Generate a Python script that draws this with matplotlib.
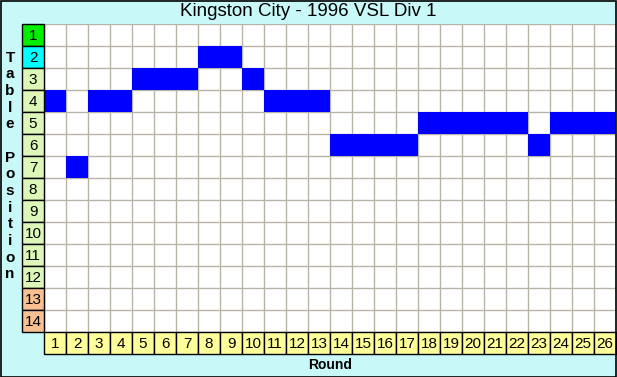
import matplotlib
matplotlib.use("Agg")
import matplotlib.pyplot as plt
from matplotlib.patches import Rectangle

title = "Kingston City - 1996 VSL Div 1"
rounds = list(range(1, 27))
positions = [4, 7, 4, 4, 3, 3, 3, 2, 2, 3, 4, 4, 4, 6, 6, 6, 6, 5, 5, 5, 5, 5, 6, 5, 5, 5]
n_pos = 14
row_colors = ["#00ee00", "#00ffff"] + ["#ddf7b8"] * 10 + ["#f8c090"] * 2
y_label_lines = ["T", "a", "b", "l", "e", "", "P", "o", "s", "i", "t", "i", "o", "n"]

W, H = 617, 377
fig = plt.figure(figsize=(W / 100, H / 100), dpi=100)
fig.patch.set_facecolor("#c8f8f8")
fig.patches.append(Rectangle((0.5 / W, 0.5 / H), 1 - 1.5 / W, 1 - 1.5 / H, transform=fig.transFigure,
                             fill=False, edgecolor="black", linewidth=1.2))

x0, x1 = 44, 616
y0, y1 = 24, 332
ax = fig.add_axes([x0 / W, 1 - y1 / H, (x1 - x0) / W, (y1 - y0) / H])
ax.set_xlim(0.5, len(rounds) + 0.5)
ax.set_ylim(n_pos + 0.5, 0.5)
ax.set_facecolor("white")
for s in ax.spines.values():
    s.set_visible(False)
ax.set_xticks([])
ax.set_yticks([])

# grid lines
for i in range(len(rounds) + 1):
    ax.axvline(i + 0.5, color="#b8b4a8", lw=1.0, zorder=1)
for j in range(n_pos + 1):
    ax.axhline(j + 0.5, color="#b8b4a8", lw=1.0, zorder=1)

# position cells
ax.bar(rounds, [1] * len(rounds), bottom=[p - 0.5 for p in positions], width=1.0,
       color="#0000ff", edgecolor="none", zorder=2)

num_font = dict(fontsize=11, family="Liberation Sans")

# row labels
for j in range(1, n_pos + 1):
    ax.add_patch(Rectangle((-0.5, j - 0.5), 1, 1, facecolor=row_colors[j - 1], edgecolor="black",
                           lw=1.0, clip_on=False, zorder=3))
    ax.text(0, j + 0.04, str(j), ha="center", va="center", clip_on=False, zorder=4, **num_font)

# round labels
for r in rounds:
    ax.add_patch(Rectangle((r - 0.5, n_pos + 0.5), 1, 1, facecolor="#ffff99", edgecolor="black",
                           lw=1.0, clip_on=False, zorder=3))
    ax.text(r, n_pos + 1.04, str(r), ha="center", va="center", clip_on=False, zorder=4, **num_font)

fig.text(0.5, 1 - 12 / H, title, ha="center", va="center", fontsize=13.5, family="Liberation Sans")
fig.text((x0 + x1) / 2 / W, 1 - 365 / H, "Round", ha="center", va="center", fontsize=10,
         fontweight="bold", family="Liberation Sans")

fig.text(10 / W, 1 - 166 / H, "\n".join(y_label_lines),
         ha="center", va="center", fontsize=11, fontweight="bold", family="Liberation Sans",
         linespacing=1.24)

fig.savefig("out.png", dpi=100, facecolor=fig.get_facecolor())
